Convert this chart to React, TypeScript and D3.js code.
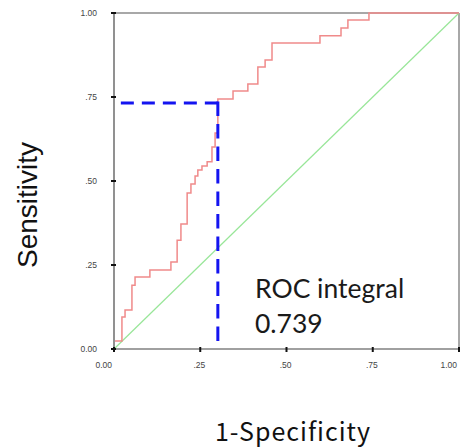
import React from "react";
import * as d3 from "d3";

const rocFpr = [0, 0, 0.023, 0.032, 0.052, 0.061, 0.104, 0.165, 0.183, 0.194, 0.212, 0.223, 0.235, 0.243, 0.255, 0.27, 0.284, 0.293, 0.301, 0.345, 0.388, 0.417, 0.438, 0.458, 0.597, 0.658, 0.678, 0.739, 1];
const rocTpr = [0, 0.024, 0.095, 0.116, 0.19, 0.214, 0.235, 0.259, 0.324, 0.372, 0.464, 0.491, 0.515, 0.533, 0.545, 0.557, 0.601, 0.643, 0.744, 0.768, 0.789, 0.839, 0.86, 0.911, 0.932, 0.955, 0.979, 1, 1];
const cutoffFpr = 0.301;
const cutoffTpr = 0.732;
const tickValues = [0, 0.25, 0.5, 0.75, 1];
const tickLabels = ["0.00", ".25", ".50", ".75", "1.00"];
const aucLabel = "ROC integral";
const aucValue = "0.739";

export default function App() {
  const x = d3.scaleLinear().domain([0, 1]).range([114, 459]);
  const y = d3.scaleLinear().domain([0, 1]).range([349, 13]);
  const pts: [number, number][] = rocFpr.map((f, i) => [f, rocTpr[i]]);
  const rocLine = d3
    .line<[number, number]>()
    .x((d) => x(d[0]))
    .y((d) => y(d[1]))
    .curve(d3.curveStepAfter);
  const diag = d3.line<number>().x((d) => x(d)).y((d) => y(d));
  const tickFont = "'Liberation Sans', Arial, sans-serif";
  return (
    <svg width={465} height={448} style={{ position: "absolute", left: 0, top: 0, background: "#fff" }}>
      <rect x={0} y={0} width={465} height={448} fill="#fff" />
      {/* frame */}
      <line x1={x(0)} x2={x(1)} y1={y(1)} y2={y(1)} stroke="#a8a8a8" strokeWidth={2} />
      <line x1={x(1)} x2={x(1)} y1={y(0)} y2={y(1)} stroke="#a8a8a8" strokeWidth={2} />
      {/* diagonal */}
      <path d={diag([0, 1]) || ""} fill="none" stroke="#98e698" strokeWidth={1.2} />
      {/* ROC */}
      <path d={rocLine(pts) || ""} fill="none" stroke="#f08a8a" strokeWidth={1.5} />
      {/* cutoff dashed lines */}
      <path
        d={`M${x(cutoffFpr)},${y(cutoffTpr)}L${x(0)},${y(cutoffTpr)}`}
        fill="none"
        stroke="#1414f0"
        strokeWidth={3}
        strokeDasharray="13 8"
      />
      <path
        d={`M${x(cutoffFpr)},${y(cutoffTpr) - 1.5}L${x(cutoffFpr)},${y(0)}`}
        fill="none"
        stroke="#1414f0"
        strokeWidth={3}
        strokeDasharray="14.5 8"
      />
      <line x1={x(0)} x2={x(0)} y1={y(0)} y2={y(1)} stroke="#919191" strokeWidth={2} />
      <line x1={x(0)} x2={x(1)} y1={y(0)} y2={y(0)} stroke="#a0a0a0" strokeWidth={2} />
      {/* ticks */}
      {tickValues.map((t, i) => (
        <g key={"yt" + i}>
          <line x1={x(0) - 3} x2={x(0) + 2} y1={y(t)} y2={y(t)} stroke="#111" strokeWidth={2} />
          <text x={97} y={y(t) + 3} textAnchor="end" fontSize={8.5} fill="#444" fontFamily={tickFont}>
            {tickLabels[i]}
          </text>
        </g>
      ))}
      {tickValues.map((t, i) => (
        <g key={"xt" + i}>
          <line x1={x(t)} x2={x(t)} y1={y(0) - 2} y2={y(0) + 3} stroke="#111" strokeWidth={2} />
          <text
            x={x(t) + (tickLabels[i].length === 4 ? -2 : 5)}
            y={368}
            textAnchor="end"
            fontSize={8.5}
            fill="#444"
            fontFamily={tickFont}
          >
            {tickLabels[i]}
          </text>
        </g>
      ))}
      {/* AUC text */}
      <text x={255} y={298} fontSize={26.5} fill="#1a1a1a" fontFamily="Lato, 'Open Sans', sans-serif">
        {aucLabel}
      </text>
      <text x={255} y={333} fontSize={26.5} fill="#1a1a1a" fontFamily="Lato, 'Open Sans', sans-serif">
        {aucValue}
      </text>
      {/* axis titles */}
      <text
        transform="translate(37,205) rotate(-90)"
        textAnchor="middle"
        fontSize={28}
        fill="#111"
        fontFamily="'Liberation Sans', Arial, sans-serif"
      >
        Sensitivity
      </text>
      <text
        x={293}
        y={441}
        textAnchor="middle"
        fontSize={25}
        letterSpacing={1}
        fill="#111"
        fontFamily="'Noto Sans CJK JP', sans-serif"
      >
        1-Specificity
      </text>
    </svg>
  );
}
